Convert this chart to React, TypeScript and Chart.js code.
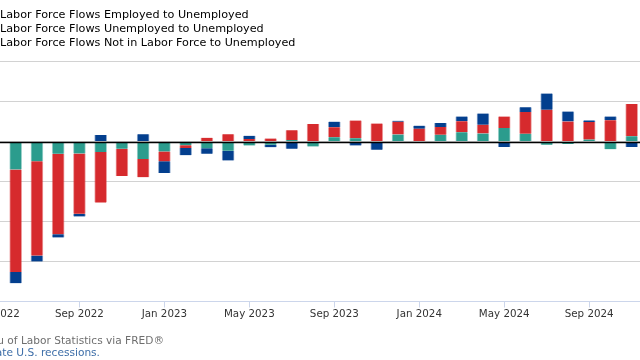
import React, { useEffect, useRef } from "react";
import { Chart, registerables } from "chart.js";

Chart.register(...registerables);

// Months shown (Jun 2022 – Nov 2024)
const months = [
  "Jun 2022", "Jul 2022", "Aug 2022", "Sep 2022", "Oct 2022", "Nov 2022", "Dec 2022",
  "Jan 2023", "Feb 2023", "Mar 2023", "Apr 2023", "May 2023", "Jun 2023", "Jul 2023",
  "Aug 2023", "Sep 2023", "Oct 2023", "Nov 2023", "Dec 2023", "Jan 2024", "Feb 2024",
  "Mar 2024", "Apr 2024", "May 2024", "Jun 2024", "Jul 2024", "Aug 2024", "Sep 2024",
  "Oct 2024", "Nov 2024",
];

// Change from a year ago (thousands of persons, estimated)
const employedToUnemployed = [
  -175, -123, -77, -75, -65, -46, -110, -62, -23, -42, -58, -25, -21, 10,
  -31, 27, 21, 0, 44, 0, 42, 58, 50, 85, 48, -21, -15, 12, -48, 33,
];
const unemployedToUnemployed = [
  -640, -590, -502, -377, -317, -169, -113, -62, -17, 23, 46, 15, 19, 60,
  110, 62, 110, 112, 79, 80, 48, 69, 54, 71, 137, 198, 125, 110, 133, 202,
];
const notInLaborForceToUnemployed = [
  -71, -37, -21, -17, 40, 0, 45, -73, -46, -35, -60, 21, -15, -46,
  0, 35, -25, -52, 6, 19, 25, 29, 71, -35, 29, 102, 62, 10, 23, -35,
];

const seriesNames = [
  "Labor Force Flows Employed to Unemployed",
  "Labor Force Flows Unemployed to Unemployed",
  "Labor Force Flows Not in Labor Force to Unemployed",
];
const seriesColors = ["#2b9c8d", "#d62a2d", "#033f8e"];
const seriesBorders = ["rgba(43,156,141,0.45)", "rgba(214,42,45,0.45)", "rgba(3,63,142,0.45)"];

const tickLabels = [
  "May 2022", "Sep 2022", "Jan 2023", "May 2023", "Sep 2023", "Jan 2024", "May 2024", "Sep 2024",
];

const yMin = -1000;
const yMax = 500;
const yStep = 250;

const MONTHS = ["Jan", "Feb", "Mar", "Apr", "May", "Jun", "Jul", "Aug", "Sep", "Oct", "Nov", "Dec"];
const monthIndex = (label: string) => {
  const [m, y] = label.split(" ");
  return (parseInt(y, 10) - 2022) * 12 + MONTHS.indexOf(m);
};

const FONT = "'DejaVu Sans', Verdana, sans-serif";

export default function App() {
  const canvasRef = useRef<HTMLCanvasElement | null>(null);

  useEffect(() => {
    if (!canvasRef.current) return;
    const seriesValues = [employedToUnemployed, unemployedToUnemployed, notInLaborForceToUnemployed];

    const zeroLine = {
      id: "zeroLine",
      afterDatasetsDraw(chart: any) {
        const { ctx, chartArea, scales } = chart;
        const y = Math.round(scales.y.getPixelForValue(0)) + 0.5;
        ctx.save();
        ctx.strokeStyle = "#000000";
        ctx.lineWidth = 1.6;
        ctx.beginPath();
        ctx.moveTo(chartArea.left, y);
        ctx.lineTo(chartArea.right, y);
        ctx.stroke();
        ctx.restore();
      },
    };

    const chart = new Chart(canvasRef.current, {
      type: "bar",
      data: {
        datasets: seriesValues.map((vals, s) => ({
          label: seriesNames[s],
          data: vals.map((v, i) => ({ x: monthIndex(months[i]), y: v })),
          backgroundColor: seriesColors[s],
          borderColor: seriesBorders[s],
          borderWidth: { left: 1, right: 1, top: 0, bottom: 0 },
          borderSkipped: false,
          barThickness: 12,
        })),
      },
      options: {
        responsive: false,
        animation: false,
        events: [],
        layout: { padding: { top: 61.5, left: 0, right: 0, bottom: 0 } },
        plugins: {
          legend: { display: false },
          tooltip: { enabled: false },
          title: { display: false },
        },
        scales: {
          x: {
            type: "linear",
            stacked: true,
            offset: false,
            min: -0.447,
            max: 37.217,
            afterFit: (scale: any) => {
              scale.height = 58.5;
            },
            afterBuildTicks: (scale: any) => {
              scale.ticks = tickLabels.map((l) => ({ value: monthIndex(l) }));
            },
            grid: {
              offset: false,
              drawOnChartArea: false,
              drawTicks: true,
              tickLength: 6,
              color: "#ccd6eb",
            },
            border: { display: true, color: "#ccd6eb", width: 1 },
            ticks: {
              autoSkip: false,
              maxRotation: 0,
              padding: 1,
              color: "#333333",
              font: { family: FONT, size: 10.3 },
              callback: (v: any) => {
                const idx = tickLabels.findIndex((l) => monthIndex(l) === v);
                return idx >= 0 ? tickLabels[idx] : "";
              },
            },
          },
          y: {
            stacked: true,
            min: yMin,
            max: yMax,
            afterFit: (scale: any) => {
              scale.width = 0;
            },
            ticks: { stepSize: yStep, display: false },
            grid: { color: "#d2d2d2", lineWidth: 1, drawTicks: false },
            border: { display: false },
          },
        },
      },
      plugins: [zeroLine],
    });
    return () => chart.destroy();
  }, []);

  return (
    <div
      style={{
        position: "fixed",
        left: 0,
        top: 0,
        width: 640,
        height: 360,
        overflow: "hidden",
        background: "#ffffff",
      }}
    >
      <canvas
        ref={canvasRef}
        width={800}
        height={360}
        style={{ position: "absolute", left: -100, top: 0, width: 800, height: 360 }}
      />
      <div
        style={{
          position: "absolute",
          left: 0,
          top: 8,
          fontFamily: FONT,
          fontSize: 11.2,
          lineHeight: "14px",
          color: "#000000",
          whiteSpace: "nowrap",
        }}
      >
        {seriesNames.map((n) => (
          <div key={n}>{n}</div>
        ))}
      </div>
      <div
        style={{
          position: "absolute",
          right: 640 - 164,
          top: 333.5,
          fontFamily: FONT,
          fontSize: 10.6,
          lineHeight: "13px",
          color: "#6e6e6e",
          whiteSpace: "nowrap",
        }}
      >
        Source: U.S. Bureau of Labor Statistics via FRED®
      </div>
      <div
        style={{
          position: "absolute",
          right: 640 - 100,
          top: 346,
          fontFamily: FONT,
          fontSize: 10.6,
          lineHeight: "13px",
          color: "#3d6ea8",
          whiteSpace: "nowrap",
        }}
      >
        Shaded areas indicate U.S. recessions.
      </div>
    </div>
  );
}
